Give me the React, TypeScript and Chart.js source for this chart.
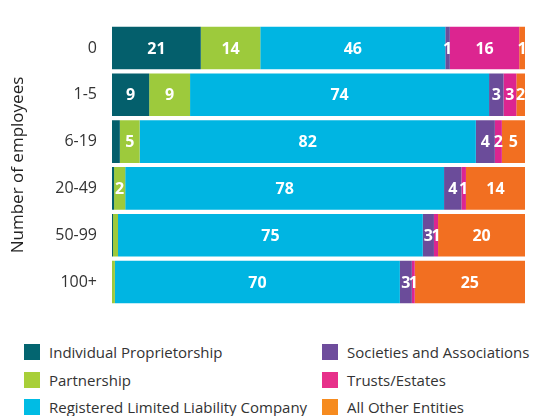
import React, { useEffect, useRef } from "react";
import { Chart, registerables } from "chart.js";

Chart.register(...registerables);

const categories = ["0", "1-5", "6-19", "20-49", "50-99", "100+"];

// Shares (% of bar length)
const individualShare = [21.5, 9.0, 1.9, 0.5, 0.25, 0];
const partnershipShare = [14.4, 9.9, 4.8, 2.7, 1.2, 0.7];
const llcShare = [44.8, 72.4, 81.4, 77.2, 73.8, 69.0];
const societiesShare = [1.1, 3.5, 4.6, 4.2, 2.7, 2.9];
const trustsShare = [16.8, 3.1, 1.7, 1.1, 1.0, 0.7];
const otherShare = [1.4, 2.1, 5.6, 14.3, 21.05, 26.7];

// Printed labels inside bars (null = no label)
const individualLabel = [21, 9, null, null, null, null];
const partnershipLabel = [14, 9, 5, 2, null, null];
const llcLabel = [46, 74, 82, 78, 75, 70];
const societiesLabel = [1, 3, 4, 4, 3, 3];
const trustsLabel = [16, 3, 2, 1, 1, 1];
const otherLabel = [1, 2, 5, 14, 20, 25];

const seriesNames = [
  "Individual Proprietorship",
  "Partnership",
  "Registered Limited Liability Company",
  "Societies and Associations",
  "Trusts/Estates",
  "All Other Entities",
];
const barColors = ["#045f6c", "#9dca3c", "#00b5e2", "#6b4c9a", "#dc2590", "#f26f21"];
const legendColors = ["#036570", "#a8cf38", "#00bce4", "#6e4c9c", "#e7308a", "#f68b1f"];

const FONT = '"Open Sans", sans-serif';

const labelPlugin = {
  id: "barLabels",
  afterDatasetsDraw(chart: any) {
    const ctx = chart.ctx;
    ctx.save();
    ctx.font = `bold 16px ${FONT}`;
    ctx.fillStyle = "#ffffff";
    ctx.textAlign = "center";
    ctx.textBaseline = "middle";
    chart.data.datasets.forEach((ds: any, i: number) => {
      const meta = chart.getDatasetMeta(i);
      meta.data.forEach((el: any, j: number) => {
        const lab = ds.printed[j];
        if (lab == null) return;
        const { x, y, base } = el.getProps(["x", "y", "base"], true);
        ctx.fillText(String(lab), (x + base) / 2, y + 1);
      });
    });
    ctx.restore();
  },
};

export default function App() {
  const ref = useRef<HTMLCanvasElement | null>(null);

  useEffect(() => {
    if (!ref.current) return;
    const shares = [individualShare, partnershipShare, llcShare, societiesShare, trustsShare, otherShare];
    const labels = [individualLabel, partnershipLabel, llcLabel, societiesLabel, trustsLabel, otherLabel];
    const chart = new Chart(ref.current, {
      type: "bar",
      data: {
        labels: categories,
        datasets: shares.map((d, i) => ({
          label: seriesNames[i],
          data: d,
          printed: labels[i],
          backgroundColor: barColors[i],
          borderWidth: 0,
          barPercentage: 0.91,
          categoryPercentage: 1,
        })) as any,
      },
      options: {
        indexAxis: "y",
        animation: false,
        responsive: false,
        maintainAspectRatio: false,
        layout: { padding: { top: 4, right: 10, bottom: 8, left: 0 } },
        plugins: { legend: { display: false }, tooltip: { enabled: false } },
        scales: {
          x: { stacked: true, min: 0, max: 100, display: false },
          y: {
            stacked: true,
            grid: { display: false, drawTicks: false },
            border: { display: false },
            ticks: { color: "#333", font: { family: FONT, size: 16 }, padding: 15 },
            title: {
              display: true,
              text: "Number of employees",
              color: "#222",
              font: { family: FONT, size: 17 },
              padding: { top: 8, bottom: 0 },
            },
            afterFit: (scale: any) => {
              scale.width = 112;
            },
          },
        },
      },
      plugins: [labelPlugin],
    });
    return () => chart.destroy();
  }, []);

  const order = [0, 3, 1, 4, 2, 5];
  return (
    <div style={{ position: "absolute", left: 0, top: 0, width: 535, height: 416, background: "#fff", fontFamily: FONT }}>
      <canvas ref={ref} width={535} height={330} style={{ width: 535, height: 330, display: "block" }} />
      <div
        style={{
          position: "absolute",
          left: 24,
          top: 338,
          display: "grid",
          gridTemplateColumns: "298px 220px",
          gridAutoRows: "27.7px",
        }}
      >
        {order.map((i) => (
          <div key={i} style={{ display: "flex", alignItems: "center", whiteSpace: "nowrap" }}>
            <span style={{ width: 16, height: 16, background: legendColors[i], display: "inline-block", marginRight: 9, flex: "none" }} />
            <span style={{ fontSize: 15, color: "#333" }}>{seriesNames[i]}</span>
          </div>
        ))}
      </div>
    </div>
  );
}
